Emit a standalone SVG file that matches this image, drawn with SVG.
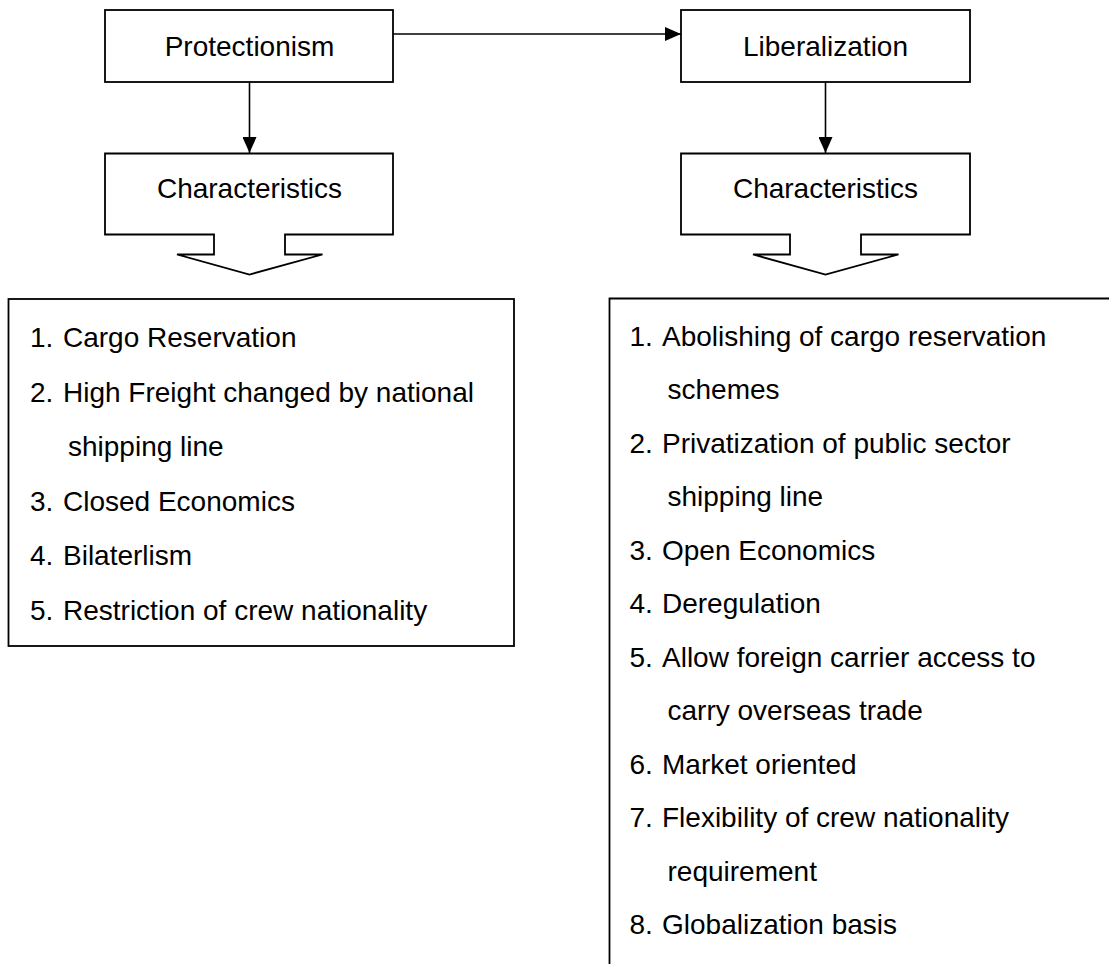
<svg xmlns="http://www.w3.org/2000/svg" width="1109" height="964" viewBox="0 0 1109 964">
  <style>
    .box { fill: #ffffff; stroke: #000000; stroke-width: 1.8; }
    .edge { fill: none; stroke: #000000; stroke-width: 1.6; }
    .label { font-family: "Liberation Sans", Arial, sans-serif; font-size: 28px; fill: #000000; }
    .mid { text-anchor: middle; }
  </style>
  <defs>
    <marker id="arrow" viewBox="0 0 16 14" refX="16" refY="7" markerWidth="16" markerHeight="14" markerUnits="userSpaceOnUse" orient="auto">
      <path d="M0,0 L16,7 L0,14 Z" fill="#000000"/>
    </marker>
  </defs>

  <rect width="1109" height="964" fill="#ffffff"/>

  <!-- connectors -->
  <g id="connectors">
    <line class="edge" x1="393" y1="34" x2="681" y2="34" marker-end="url(#arrow)"/>
    <line class="edge" x1="249.5" y1="82" x2="249.5" y2="153" marker-end="url(#arrow)"/>
    <line class="edge" x1="825.5" y1="82" x2="825.5" y2="153" marker-end="url(#arrow)"/>
  </g>

  <!-- top row -->
  <g id="protectionism">
    <rect class="box" x="105" y="10" width="288" height="72"/>
    <text class="label mid" x="249.5" y="56">Protectionism</text>
  </g>
  <g id="liberalization">
    <rect class="box" x="681" y="10" width="289" height="72"/>
    <text class="label mid" x="825.5" y="56">Liberalization</text>
  </g>

  <!-- characteristics callouts with down-pointing tab -->
  <g id="characteristics-left">
    <path class="box" d="M105,153.5 H393 V234.5 H285 V254.5 H322.5 L249.5,274.5 L177,254.5 H214 V234.5 H105 Z"/>
    <text class="label mid" x="249.5" y="198">Characteristics</text>
  </g>
  <g id="characteristics-right">
    <path class="box" d="M681,153.5 H970 V234.5 H861 V254.5 H898.5 L825.5,274.5 L753,254.5 H790 V234.5 H681 Z"/>
    <text class="label mid" x="825.5" y="198">Characteristics</text>
  </g>

  <!-- protectionism list -->
  <g id="list-protectionism">
    <rect class="box" x="8.5" y="299" width="505.5" height="347"/>
    <text class="label" y="347"><tspan x="30">1.</tspan><tspan x="63">Cargo Reservation</tspan></text>
    <text class="label" y="401.6"><tspan x="30">2.</tspan><tspan x="63">High Freight changed by national</tspan></text>
    <text class="label" y="456.2"><tspan x="68">shipping line</tspan></text>
    <text class="label" y="510.8"><tspan x="30">3.</tspan><tspan x="63">Closed Economics</tspan></text>
    <text class="label" y="565.4"><tspan x="30">4.</tspan><tspan x="63">Bilaterlism</tspan></text>
    <text class="label" y="620"><tspan x="30">5.</tspan><tspan x="63">Restriction of crew nationality</tspan></text>
  </g>

  <!-- liberalization list (box runs past the lower and right edges) -->
  <g id="list-liberalization">
    <path class="box" d="M1112,298.5 H609.5 V968 H1112 Z"/>
    <text class="label" y="345.5"><tspan x="629.5">1.</tspan><tspan x="662">Abolishing of cargo reservation</tspan></text>
    <text class="label" y="399"><tspan x="667.5">schemes</tspan></text>
    <text class="label" y="452.5"><tspan x="629.5">2.</tspan><tspan x="662">Privatization of public sector</tspan></text>
    <text class="label" y="506"><tspan x="667.5">shipping line</tspan></text>
    <text class="label" y="559.5"><tspan x="629.5">3.</tspan><tspan x="662">Open Economics</tspan></text>
    <text class="label" y="613"><tspan x="629.5">4.</tspan><tspan x="662">Deregulation</tspan></text>
    <text class="label" y="666.5"><tspan x="629.5">5.</tspan><tspan x="662">Allow foreign carrier access to</tspan></text>
    <text class="label" y="720"><tspan x="667.5">carry overseas trade</tspan></text>
    <text class="label" y="773.5"><tspan x="629.5">6.</tspan><tspan x="662">Market oriented</tspan></text>
    <text class="label" y="827"><tspan x="629.5">7.</tspan><tspan x="662">Flexibility of crew nationality</tspan></text>
    <text class="label" y="880.5"><tspan x="667.5">requirement</tspan></text>
    <text class="label" y="934"><tspan x="629.5">8.</tspan><tspan x="662">Globalization basis</tspan></text>
  </g>
</svg>
